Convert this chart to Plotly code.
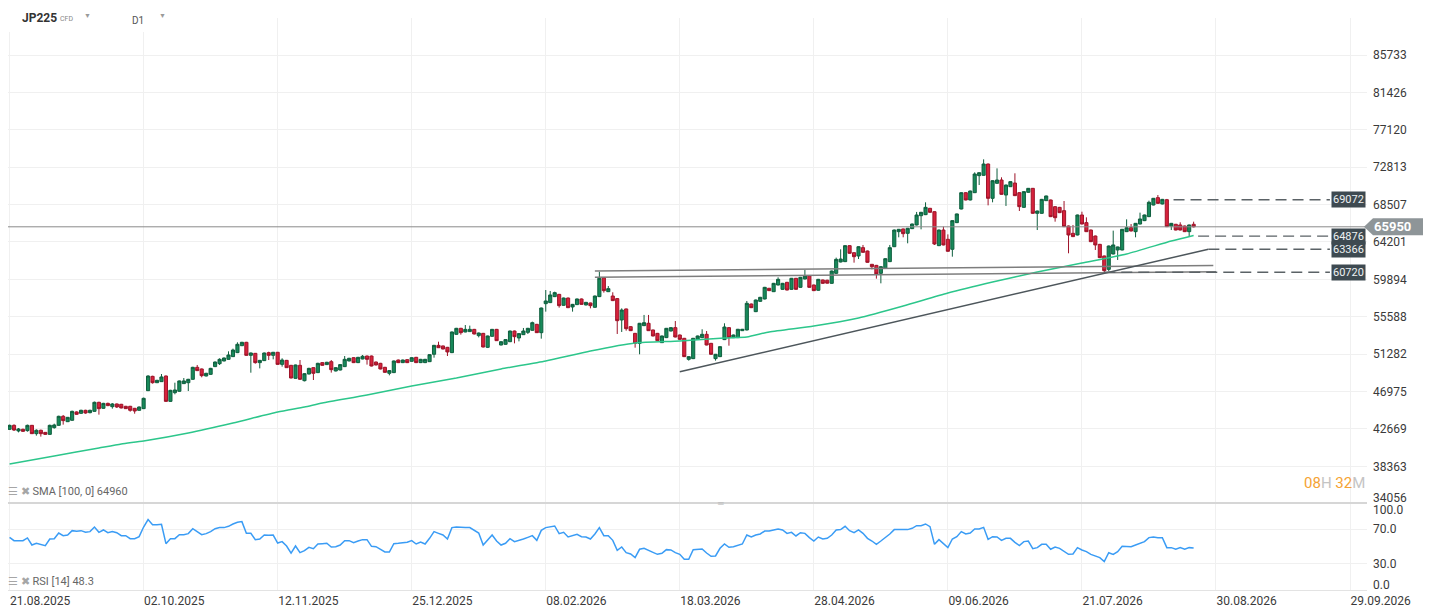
import plotly.graph_objects as go

# ---- axis labels -------------------------------------------------------
tick_bars = [0, 30, 60, 90, 120, 150, 180, 210, 240, 270, 300]
tick_dates = ["21.08.2025", "02.10.2025", "12.11.2025", "25.12.2025", "08.02.2026",
              "18.03.2026", "28.04.2026", "09.06.2026", "21.07.2026", "30.08.2026",
              "29.09.2026"]
price_ticks = [38363, 42669, 46975, 51282, 55588, 59894, 64201, 68507, 72813, 77120,
               81426, 85733]
price_floor_tick = 34056
rsi_ticks = [30, 70]

# ---- JP225 daily candles (bar index 0 = 21.08.2025) -----------------------
opens = [
    42630, 43090, 42440, 42630, 42480, 43090, 42130, 42520, 42280, 42050,
    42820, 43090, 44130, 43510, 43670, 44630, 44470, 44820, 44550, 44700,
    45740, 45050, 45620, 45240, 45550, 45510, 45280, 45280, 45050, 44820,
    45010, 47080, 48730, 48000, 48120, 48770, 45850, 46850, 47010, 47890,
    48000, 48390, 49770, 49580, 48770, 48960, 49850, 50190, 50500, 50690,
    51000, 51460, 52260, 52650, 51150, 51380, 50310, 50540, 51460, 51150,
    51500, 50110, 50570, 50000, 48500, 50000, 48230, 49000, 49730, 49160,
    50310, 50080, 50420, 49350, 49460, 49850, 50500, 50880, 50310, 50730,
    51070, 51070, 50380, 50230, 49770, 49080, 49160, 50610, 50310, 50650,
    50460, 50920, 50310, 50310, 50420, 51270, 52300, 52230, 52070, 51460,
    53570, 54260, 53840, 53880, 54140, 53420, 53680, 52070, 53340, 54140,
    52340, 52420, 52720, 53950, 53150, 53530, 53800, 54030, 54720, 53760,
    57100, 57220, 57910, 58170, 56910, 57750, 56720, 56990, 57640, 56950,
    57180, 56680, 57910, 60090, 58480, 57980, 57680, 55220, 56490, 54450,
    53680, 52530, 54570, 54840, 54070, 53680, 52610, 53190, 53950, 54340,
    53490, 53110, 50690, 50770, 52990, 53190, 53570, 52530, 50770, 51000,
    52960, 54340, 53190, 53190, 53990, 54070, 57060, 56180, 57370, 57640,
    58870, 58480, 59250, 58750, 59560, 58750, 60020, 58980, 59940, 60320,
    59250, 58640, 59830, 59800, 59440, 60590, 61900, 61940, 63780, 62970,
    62590, 63550, 63160, 61630, 61510, 60590, 61170, 61940, 63660, 65390,
    65700, 65200, 65740, 66160, 67230, 67350, 68080, 67690, 63780, 65580,
    64510, 63360, 66430, 68000, 69880, 69040, 69880, 71840, 71880, 73180,
    69230, 70960, 71340, 69610, 70570, 70990, 69880, 68190, 69920, 70380,
    67500, 67500, 68960, 69040, 68270, 68190, 67810, 66040, 65200, 65010,
    67310, 66430, 65580, 64890, 63930, 62590, 61050, 62820, 63280, 63280,
    65390, 65850, 65390, 66270, 66660, 67120, 68460, 69310, 68580, 69072,
    66040, 66240, 66160, 66040, 65390, 66240]
highs = [
    43170, 43200, 42780, 42710, 43170, 43130, 42630, 42590, 42320, 43170,
    43280, 44200, 44280, 44050, 44780, 44700, 44890, 44880, 44890, 45820,
    45800, 45680, 45700, 45660, 45600, 45560, 45330, 45330, 45090, 45260,
    46280, 48850, 48800, 48330, 49000, 48830, 47180, 48000, 48250, 48540,
    48440, 49830, 50040, 49630, 49130, 49710, 50440, 50810, 50900, 51610,
    51920, 52650, 52700, 52700, 51470, 51420, 50620, 51470, 51570, 51540,
    51540, 50810, 50620, 50040, 50080, 50610, 49100, 49720, 49780, 50290,
    50360, 50400, 50610, 49780, 50130, 51070, 50860, 50930, 50970, 51190,
    51120, 51120, 50430, 50280, 49820, 49460, 50550, 50660, 50660, 50700,
    50930, 50970, 50740, 50740, 51280, 52350, 52720, 52270, 52120, 53890,
    54310, 54310, 54640, 54570, 54190, 53770, 53730, 53420, 54190, 54190,
    52770, 53000, 54000, 54000, 53690, 54300, 54310, 55030, 54770, 56650,
    58670, 58560, 58480, 58220, 57800, 57800, 57070, 57690, 57690, 57300,
    57220, 58030, 60780, 60140, 59130, 58410, 57720, 56560, 56530, 54500,
    53730, 54880, 55800, 55800, 54110, 53730, 53420, 54300, 54380, 55100,
    53540, 53150, 51040, 53150, 53420, 54150, 53950, 52580, 51310, 52190,
    54840, 54380, 53540, 54190, 54190, 57410, 57110, 57570, 57880, 59030,
    58910, 59490, 60130, 59490, 59600, 60060, 60060, 60180, 60980, 60370,
    59290, 59950, 59870, 59850, 60910, 62400, 63360, 63820, 63820, 63010,
    63710, 63860, 63210, 61670, 61560, 61400, 62330, 63860, 65630, 65700,
    65740, 65820, 66320, 67660, 67660, 68770, 68120, 67740, 65630, 65970,
    65080, 66700, 67470, 69930, 69930, 70120, 72220, 72230, 73720, 73230,
    71310, 72680, 71650, 70810, 71190, 72110, 69930, 70040, 70420, 70420,
    67810, 69160, 69540, 69080, 68310, 68240, 68920, 66090, 66160, 67350,
    67690, 67040, 65630, 64940, 63980, 62630, 63790, 65510, 63670, 65700,
    66810, 66270, 66390, 67580, 67350, 68960, 69270, 69610, 69160, 69160,
    66390, 66280, 66470, 66090, 66200, 66540]
lows = [
    42550, 42440, 42280, 42320, 42360, 42090, 41900, 41790, 42000, 42020,
    42710, 43050, 43170, 43480, 43630, 44300, 44430, 44430, 44470, 44660,
    44320, 45000, 45300, 45010, 45090, 45040, 44970, 44660, 44430, 44780,
    44970, 47040, 47890, 47960, 48080, 45800, 45800, 46660, 46960, 47850,
    47040, 48340, 49340, 48620, 48730, 48920, 49800, 50040, 50460, 50650,
    50960, 51410, 52220, 51110, 49150, 50190, 49650, 50500, 50610, 50690,
    50070, 49850, 49690, 48500, 48460, 48310, 48150, 48960, 48310, 49110,
    49960, 50040, 49160, 49300, 49420, 49800, 50460, 50260, 50260, 50690,
    50080, 49880, 49990, 49530, 49150, 48850, 49110, 50260, 50260, 50260,
    50420, 50260, 50260, 50260, 50380, 50880, 51990, 51840, 51070, 51410,
    53530, 53530, 53800, 53840, 53560, 53220, 52060, 51990, 53300, 52800,
    52300, 52380, 52680, 52530, 52760, 53490, 53610, 53990, 53720, 53070,
    56180, 57170, 57860, 56640, 56860, 56590, 56180, 56940, 56980, 56900,
    56560, 56630, 57860, 58370, 58440, 57400, 53610, 53840, 53990, 53950,
    52030, 51270, 54520, 53950, 53330, 52800, 52570, 53140, 53910, 53220,
    52950, 50950, 50540, 50720, 52950, 53140, 52300, 51220, 50540, 50950,
    52910, 52260, 53140, 53140, 53950, 54020, 56590, 56130, 57320, 57590,
    58550, 58440, 59200, 58700, 58630, 58700, 58700, 58940, 59900, 58940,
    58550, 58590, 59400, 59420, 59400, 60550, 61850, 61890, 62850, 61820,
    62240, 62970, 61810, 61050, 59980, 59440, 61120, 61890, 63620, 64740,
    64740, 64050, 65690, 66110, 65660, 67300, 67570, 63860, 63730, 63810,
    63080, 62510, 66380, 67960, 68990, 68990, 69840, 70760, 71830, 68420,
    68770, 70910, 69640, 68350, 70530, 69490, 67770, 68150, 69880, 67460,
    65580, 67460, 68920, 67070, 66540, 67530, 65920, 62900, 64770, 64960,
    66230, 65350, 64190, 63280, 62350, 60720, 60850, 62780, 62130, 63240,
    65350, 65420, 64740, 66230, 66610, 67070, 68420, 68610, 68530, 65920,
    65580, 65540, 65540, 65350, 64876, 65880]
closes = [
    43090, 42550, 42670, 42400, 43090, 42130, 42520, 42130, 42050, 43090,
    43130, 44130, 43630, 44010, 44700, 44360, 44820, 44510, 44820, 45740,
    45010, 45620, 45360, 45550, 45200, 45090, 45010, 44820, 44740, 45200,
    46200, 48770, 48000, 48270, 48660, 45850, 47120, 47160, 48200, 48200,
    48390, 49770, 49390, 48810, 49080, 49650, 50380, 50690, 50840, 51190,
    51760, 52420, 52650, 51150, 51420, 50310, 50570, 51420, 51150, 51500,
    50110, 50610, 49730, 48540, 50040, 48390, 49040, 49650, 49080, 50230,
    50000, 50350, 49500, 49730, 50080, 50690, 50810, 50310, 50920, 51040,
    50690, 49920, 50040, 49580, 49190, 49390, 50500, 50310, 50610, 50310,
    50880, 50310, 50690, 50690, 51230, 52300, 52030, 51880, 51540, 53840,
    54260, 53760, 54140, 54140, 53610, 53720, 52110, 53380, 54140, 52840,
    52720, 52960, 53950, 53300, 53650, 53950, 54260, 54910, 53760, 56600,
    57410, 58100, 58370, 56870, 57750, 56640, 57020, 57640, 57020, 57250,
    56870, 57980, 60020, 58600, 58830, 57450, 55140, 56370, 54220, 53990,
    52530, 54840, 54910, 53990, 53380, 52840, 53380, 54260, 54340, 53260,
    52990, 51000, 51000, 53110, 53380, 53570, 52340, 51270, 51270, 52150,
    54410, 53220, 53490, 54150, 54150, 57140, 56640, 57520, 57830, 58980,
    58600, 59440, 59900, 59440, 58670, 60020, 58750, 60130, 60290, 58980,
    58600, 59900, 59440, 59460, 60860, 62200, 62240, 63780, 62900, 62510,
    63660, 63010, 61860, 61360, 60520, 61360, 62280, 63550, 65580, 65660,
    65160, 65780, 66270, 67310, 67620, 68190, 67620, 63970, 65580, 63860,
    63130, 66660, 67430, 69880, 69040, 70070, 72030, 72180, 73180, 69230,
    71260, 71340, 69690, 70760, 71150, 69540, 68270, 70000, 70380, 67500,
    67770, 69110, 69500, 67120, 67000, 67580, 65970, 65010, 64820, 67310,
    66270, 65390, 64240, 63860, 62400, 60900, 63740, 63860, 63630, 65660,
    65850, 65470, 66350, 66850, 67310, 68770, 69230, 68650, 69110, 65970,
    66350, 65580, 65580, 65390, 66160, 65950]

# SMA(100)
sma_bars = [0, 10, 20, 25, 30, 40, 50, 60, 66, 70, 80, 90, 100, 110, 120, 130,
            140, 150, 160, 165, 170, 180, 190, 200, 210, 220, 230, 240, 250, 260, 265]
sma_vals = [38640, 39560, 40480, 40940, 41290, 42210, 43360, 44620, 45200, 45660,
            46580, 47620, 48540, 49580, 50500, 51650, 52570, 52800, 53150, 53260,
            53840, 54530, 55450, 56830, 58330, 59590, 60750, 61780, 62820, 64320, 64960]

# RSI(14), one value per bar
rsi_vals = [
    60.5, 56.7, 56.7, 56.7, 59.8, 51.7, 53.7, 52.5, 51.0, 58.6,
    59.0, 65.5, 62.5, 63.2, 68.2, 67.4, 68.2, 66.3, 67.1, 72.4,
    66.3, 69.0, 65.9, 67.1, 65.9, 62.5, 62.5, 59.0, 59.0, 61.3,
    72.4, 80.9, 75.1, 75.1, 75.5, 53.3, 59.0, 59.0, 63.6, 63.6,
    64.8, 70.5, 67.4, 63.6, 64.8, 67.1, 70.5, 71.7, 71.7, 73.2,
    75.9, 77.8, 78.6, 65.1, 65.1, 57.9, 58.6, 63.2, 62.8, 63.2,
    54.0, 55.6, 50.6, 42.5, 50.6, 42.9, 45.2, 49.1, 47.5, 52.9,
    53.3, 53.7, 49.4, 49.8, 51.7, 56.7, 56.7, 54.4, 56.3, 57.9,
    57.9, 50.2, 49.8, 47.1, 43.7, 43.7, 53.3, 53.7, 54.0, 54.8,
    56.7, 52.9, 55.2, 52.9, 59.4, 67.1, 65.1, 63.2, 58.6, 71.7,
    72.4, 71.7, 71.7, 71.7, 68.2, 65.5, 51.7, 57.5, 63.2, 56.3,
    51.7, 53.7, 59.0, 55.6, 56.7, 58.6, 60.5, 62.5, 57.1, 68.6,
    71.7, 72.8, 73.6, 64.8, 66.3, 60.9, 62.1, 64.0, 61.3, 60.9,
    58.6, 64.4, 71.7, 62.5, 62.5, 57.1, 45.6, 49.4, 42.9, 41.4,
    37.2, 46.8, 47.9, 45.2, 43.3, 41.0, 42.2, 46.4, 46.0, 42.9,
    41.0, 35.3, 35.3, 46.4, 46.8, 47.1, 42.5, 38.7, 39.1, 47.9,
    52.9, 49.1, 49.8, 51.7, 52.9, 63.2, 60.9, 63.2, 64.4, 67.8,
    67.8, 69.0, 70.1, 69.0, 65.1, 66.3, 62.1, 65.9, 65.1, 60.2,
    56.3, 60.9, 58.6, 59.4, 63.2, 69.0, 69.4, 73.2, 68.2, 65.9,
    69.0, 65.1, 59.4, 56.3, 52.5, 56.3, 60.2, 64.4, 69.4, 69.4,
    68.6, 69.4, 70.9, 73.9, 73.9, 75.9, 72.8, 52.5, 57.9, 53.7,
    48.7, 58.6, 61.3, 67.1, 64.4, 65.5, 70.1, 70.1, 72.0, 58.3,
    61.3, 60.9, 57.1, 59.4, 59.4, 54.8, 51.0, 55.6, 56.3, 47.5,
    48.7, 52.5, 52.5, 46.8, 49.4, 47.9, 44.1, 41.0, 41.4, 48.7,
    46.0, 44.1, 41.0, 39.1, 37.2, 32.6, 42.9, 41.0, 44.1, 50.2,
    50.2, 49.8, 51.7, 54.0, 55.6, 60.2, 60.9, 60.2, 60.2, 48.7,
    48.7, 46.8, 48.7, 46.8, 48.7, 48.3]

# drawing tools: (bar indices, prices)
channel_top_bars, channel_top_vals = [131, 269.4], [60860, 61490]
channel_low_bars, channel_low_vals = [131, 270.0], [60130, 60770]
support_bars, support_vals = [150, 268.3], [49265, 63366]

# price levels with the bar where their dashed guide starts
levels = [69072, 64876, 63366, 60720]
level_from = [260.5, 266, 268.3, 245]

# ---- layout geometry ------------------------------------------------------
# the page body keeps the browser's 8px margin, so the figure is sized and
# placed to land on the 1434x615 window as the original does
OFF = 8
W, H = 1434 - OFF, 615 - OFF
ML, MR, MT, MB = 0, 67, 18 - OFF, 25
PW, PH = W - ML - MR, H - MT - MB
SPLIT = 87 / PH            # RSI pane height / plot height
X_RANGE = [-0.35, 303.8]
LABEL_BAR = 295.5          # left edge of the level boxes, in bar units


def px_x(sx):
    # window pixel -> paper x
    return (sx - OFF - ML) / PW


def px_y(sy):
    # window pixel -> paper y
    return (H - MB - (sy - OFF)) / PH


GREEN, GREEN_EDGE = "#17895a", "#0f5f3e"
RED, RED_EDGE = "#d7223c", "#9e1429"
GRID = "#f0f0f0"
TXT = "#3a3a3a"
FONT = "Roboto"

bars = list(range(len(closes)))
last = closes[-1]

fig = go.Figure()

fig.add_trace(go.Candlestick(
    x=bars, open=opens, high=highs, low=lows, close=closes,
    increasing=dict(line=dict(color=GREEN_EDGE, width=1), fillcolor=GREEN),
    decreasing=dict(line=dict(color=RED_EDGE, width=1), fillcolor=RED),
    whiskerwidth=0, showlegend=False, xaxis="x", yaxis="y"))

fig.add_trace(go.Scatter(x=sma_bars, y=sma_vals, mode="lines",
                         line=dict(color="#2cc68b", width=1.5, shape="spline", smoothing=0.6),
                         hoverinfo="skip", showlegend=False))

for bx, vals, col in [(channel_top_bars, channel_top_vals, "#7d7d7d"),
                      (channel_low_bars, channel_low_vals, "#7d7d7d"),
                      (support_bars, support_vals, "#4d565b")]:
    fig.add_trace(go.Scatter(x=bx, y=vals, mode="lines",
                             line=dict(color=col, width=1.5),
                             hoverinfo="skip", showlegend=False))

for lvl, start in zip(levels, level_from):
    fig.add_trace(go.Scatter(x=[start, LABEL_BAR], y=[lvl, lvl], mode="lines",
                             line=dict(color="#5b6266", width=1.4, dash="11px,6px"),
                             hoverinfo="skip", showlegend=False))

fig.add_trace(go.Scatter(x=bars, y=rsi_vals, mode="lines",
                         line=dict(color="#3a9cf5", width=1.5),
                         hoverinfo="skip", showlegend=False, yaxis="y2"))

shapes = [
    # last price line
    dict(type="line", xref="paper", x0=0, x1=1, yref="y", y0=last, y1=last,
         line=dict(color="#8a8a8a", width=1)),
    # last price tag with arrow
    dict(type="path", xref="paper", yref="y", xsizemode="pixel", ysizemode="pixel",
         xanchor=1, yanchor=last, path="M -3 0 L 6 -8.5 L 56 -8.5 L 56 8.5 L 6 8.5 Z",
         fillcolor="#8e9598", line=dict(width=0)),
    # pane separator
    dict(type="line", xref="paper", yref="paper", x0=0, x1=1, y0=SPLIT, y1=SPLIT,
         line=dict(color="#d6d6d6", width=2)),
    # header backdrop
    dict(type="rect", xref="paper", yref="paper", x0=0, x1=px_x(172),
         y0=px_y(32), y1=1, fillcolor="white", line=dict(width=0), layer="above"),
]

ann = []
for lvl in levels:
    ann.append(dict(x=1, xref="paper", y=lvl, yref="y", xanchor="right", xshift=-1,
                    yanchor="middle", text=str(lvl), showarrow=False,
                    bgcolor="#3e4a51", borderpad=1,
                    font=dict(family=FONT, size=11, color="#eef2f3")))
ann.append(dict(x=1, xref="paper", y=last, yref="y", xanchor="left", xshift=5,
                yanchor="middle", text=f"<b>{last}</b>", showarrow=False,
                font=dict(family=FONT, size=13, color="white")))
ann.append(dict(x=1, xref="paper", y=px_y(497.5), yref="paper", xanchor="left",
                yanchor="middle", xshift=4, text=str(price_floor_tick), showarrow=False,
                font=dict(family=FONT, size=12, color=TXT)))
ann.append(dict(x=1, xref="paper", y=100, yref="y2", xanchor="left", xshift=4,
                yanchor="middle", yshift=-7, text="100.0", showarrow=False,
                font=dict(family=FONT, size=12, color=TXT)))
ann.append(dict(x=1, xref="paper", y=0, yref="y2", xanchor="left", xshift=4,
                yanchor="middle", yshift=5, text="0.0", showarrow=False,
                font=dict(family=FONT, size=12, color=TXT)))

icons = '<span style="color:#a6a6a6">☰ ✖</span> '
ann.append(dict(x=px_x(6), xref="paper", y=px_y(491.5), yref="paper", xanchor="left",
                yanchor="middle", text=icons + f"SMA [100, 0] {sma_vals[-1]}",
                showarrow=False, font=dict(family=FONT, size=11, color="#666")))
ann.append(dict(x=px_x(6), xref="paper", y=px_y(581.5), yref="paper", xanchor="left",
                yanchor="middle", text=icons + f"RSI [14] {rsi_vals[-1]}",
                showarrow=False, font=dict(family=FONT, size=11, color="#666")))

orange, pale = "#f5a334", "#c4c4c4"
ann.append(dict(x=1, xref="paper", y=px_y(483), yref="paper", xanchor="right",
                yanchor="middle",
                text=f'<span style="color:{orange}">08</span><span style="color:{pale}">H</span> '
                     f'<span style="color:{orange}">32</span><span style="color:{pale}">M</span>',
                showarrow=False, font=dict(family=FONT, size=15)))
ann.append(dict(x=px_x(720), xref="paper", y=SPLIT, yref="paper", text="═",
                yanchor="middle", showarrow=False, font=dict(size=8, color="#b5b5b5")))

# header
ann.append(dict(x=px_x(20), xref="paper", y=px_y(18), yref="paper", xanchor="left",
                yanchor="middle", text="<b>JP225</b>", showarrow=False,
                font=dict(family=FONT, size=12, color="#333")))
ann.append(dict(x=px_x(58), xref="paper", y=px_y(19), yref="paper", xanchor="left",
                yanchor="middle", text="CFD", showarrow=False,
                font=dict(family=FONT, size=7, color="#888")))
ann.append(dict(x=px_x(130), xref="paper", y=px_y(20.5), yref="paper", xanchor="left",
                yanchor="middle", text="D1", showarrow=False,
                font=dict(family=FONT, size=10, color="#555")))
for tri in (82, 157):
    ann.append(dict(x=px_x(tri), xref="paper", y=px_y(16), yref="paper", xanchor="left",
                    yanchor="middle", text="▼", showarrow=False,
                    font=dict(size=7, color="#9a9a9a")))

fig.update_layout(
    width=W, height=H, margin=dict(l=ML, r=MR, t=MT, b=MB),
    paper_bgcolor="white", plot_bgcolor="white",
    font=dict(family=FONT, color=TXT), showlegend=False,
    boxgap=0.3, boxgroupgap=0, hovermode=False,
    shapes=shapes, annotations=ann,
    xaxis=dict(domain=[0, 1], anchor="y2", range=X_RANGE,
               rangeslider=dict(visible=False),
               tickvals=tick_bars, ticktext=tick_dates, ticks="",
               ticklabelposition="outside right", tickfont=dict(size=12, color=TXT),
               showgrid=True, gridcolor=GRID, gridwidth=1, zeroline=False,
               showline=True, linecolor="#e3e3e3", linewidth=1, fixedrange=True),
    yaxis=dict(domain=[SPLIT, 1], anchor="x", side="right", range=[34146, 89994],
               tickvals=price_ticks, ticktext=[str(v) for v in price_ticks], ticks="",
               ticklabelstandoff=5, tickfont=dict(size=12, color=TXT),
               showgrid=True, gridcolor=GRID, zeroline=False, fixedrange=True),
    yaxis2=dict(domain=[0, SPLIT], anchor="x", side="right", range=[0, 100],
                tickvals=rsi_ticks, ticktext=[f"{v:.1f}" for v in rsi_ticks], ticks="",
                ticklabelstandoff=5, tickfont=dict(size=12, color=TXT),
                showgrid=True, gridcolor=GRID, zeroline=False, fixedrange=True),
)

fig.write_html("out.html")
